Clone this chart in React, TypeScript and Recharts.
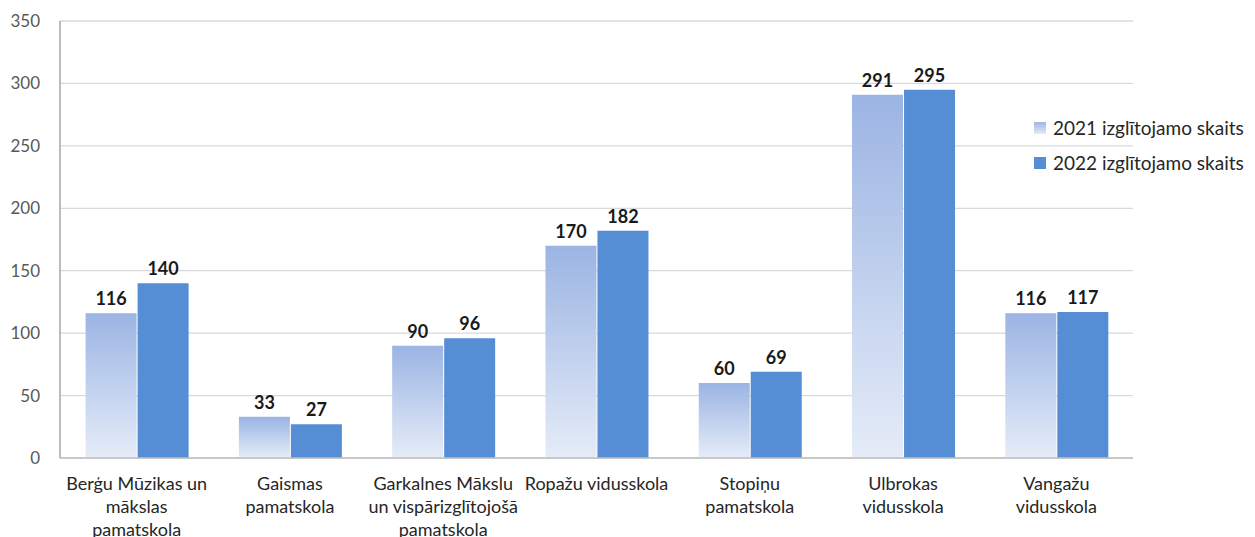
import React from 'react';
import { BarChart, Bar, XAxis, YAxis, CartesianGrid, LabelList, ReferenceLine } from 'recharts';

const schools = [
  'Berģu Mūzikas un|mākslas|pamatskola',
  'Gaismas|pamatskola',
  'Garkalnes Mākslu|un vispārizglītojošā|pamatskola',
  'Ropažu vidusskola',
  'Stopiņu|pamatskola',
  'Ulbrokas|vidusskola',
  'Vangažu|vidusskola',
];
const students2021 = [116, 33, 90, 170, 60, 291, 116];
const students2022 = [140, 27, 96, 182, 69, 295, 117];
const yTicks = [0, 50, 100, 150, 200, 250, 300, 350];
const seriesNames = ['2021 izglītojamo skaits', '2022 izglītojamo skaits'];

const data = schools.map((name, i) => ({
  name,
  y2021: students2021[i],
  y2022: students2022[i],
}));

const FONT = 'Lato, "Open Sans", sans-serif';

const SchoolTick = ({ x, y, payload }: any) => {
  const lines = String(payload.value).split('|');
  return (
    <text x={x} y={y} textAnchor="middle" fontFamily={FONT} fontSize={18} fill="#262626">
      {lines.map((line, i) => (
        <tspan key={i} x={x} dy={i === 0 ? 24 : 23}>
          {line}
        </tspan>
      ))}
    </text>
  );
};

const Legend = () => (
  <div
    style={{
      position: 'absolute',
      left: 1034,
      top: 110,
      fontFamily: FONT,
      fontSize: 19,
      color: '#262626',
      lineHeight: '35px',
    }}
  >
    {seriesNames.map((n, i) => (
      <div key={n} style={{ display: 'flex', alignItems: 'center', whiteSpace: 'nowrap' }}>
        <span
          style={{
            display: 'inline-block',
            width: 12,
            height: 12,
            marginRight: 7,
            background: i === 0 ? 'linear-gradient(#9BB4E3, #E5ECF8)' : '#558ED5',
          }}
        />
        {n}
      </div>
    ))}
  </div>
);

export default function App() {
  return (
    <div style={{ position: 'absolute', left: 0, top: 0, width: 1255, height: 537, background: '#fff' }}>
      <BarChart
        width={1255}
        height={537}
        data={data}
        margin={{ top: 21, right: 122, bottom: 0, left: 0 }}
        barCategoryGap="16.7%"
        barGap={1}
      >
        <defs>
          <linearGradient id="grad2021" x1="0" y1="0" x2="0" y2="1">
            <stop offset="0%" stopColor="#9BB4E3" />
            <stop offset="100%" stopColor="#E5ECF8" />
          </linearGradient>
        </defs>
        <CartesianGrid vertical={false} stroke="#D9D9D9" strokeWidth={1.3} />
        <XAxis
          dataKey="name"
          height={79}
          axisLine={false}
          tickLine={false}
          interval={0}
          tick={<SchoolTick />}
        />
        <YAxis
          width={60}
          domain={[0, 350]}
          ticks={yTicks}
          axisLine={{ stroke: '#A6A6A6', strokeWidth: 1.5 }}
          tickLine={false}
          tickMargin={14}
          tick={{ fontFamily: FONT, fontSize: 17, fill: '#595959' }}
        />
        <ReferenceLine y={0} stroke="#BFBFBF" strokeWidth={1.5} />
        <Bar dataKey="y2021" fill="url(#grad2021)" isAnimationActive={false}>
          <LabelList
            dataKey="y2021"
            position="top"
            offset={8}
            style={{ fontFamily: FONT, fontSize: 18, fontWeight: 700, fill: '#1a1a1a' }}
          />
        </Bar>
        <Bar dataKey="y2022" fill="#558ED5" isAnimationActive={false}>
          <LabelList
            dataKey="y2022"
            position="top"
            offset={8}
            style={{ fontFamily: FONT, fontSize: 18, fontWeight: 700, fill: '#1a1a1a' }}
          />
        </Bar>
      </BarChart>
      <Legend />
    </div>
  );
}
